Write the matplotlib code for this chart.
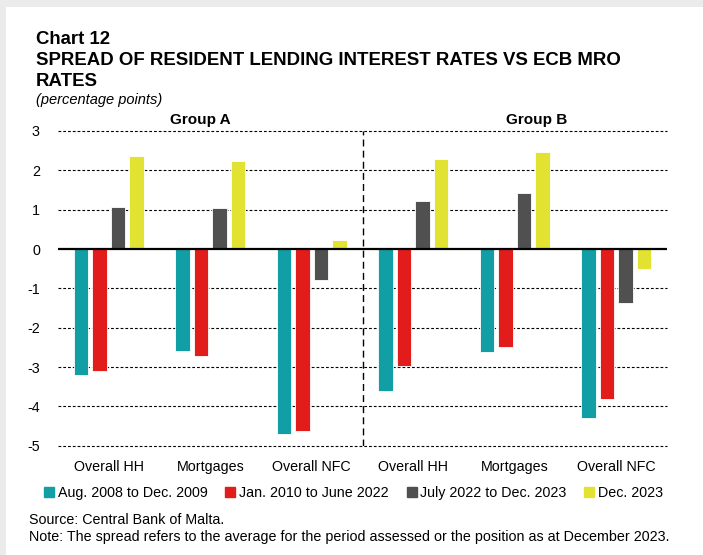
import numpy as np
import matplotlib.pyplot as plt
from matplotlib.lines import Line2D
from matplotlib.patches import Rectangle

plt.rcParams['font.family'] = ['Liberation Sans', 'DejaVu Sans']

# Data (percentage points)
categories = ['Overall HH', 'Mortgages', 'Overall NFC', 'Overall HH', 'Mortgages', 'Overall NFC']
series_names = ['Aug. 2008 to Dec. 2009', 'Jan. 2010 to June 2022',
                'July 2022 to Dec. 2023', 'Dec. 2023']
aug08_dec09 = [-3.21, -2.58, -4.70, -3.60, -2.63, -4.29]
jan10_jun22 = [-3.09, -2.73, -4.63, -2.98, -2.49, -3.82]
jul22_dec23 = [1.07, 1.04, -0.80, 1.21, 1.42, -1.37]
dec23 = [2.36, 2.23, 0.22, 2.29, 2.47, -0.52]
yticks = [3, 2, 1, 0, -1, -2, -3, -4, -5]

colors = ['#119EA4', '#E21B1B', '#505050', '#E2E232']
series = [aug08_dec09, jan10_jun22, jul22_dec23, dec23]

W, H = 703, 555
fig = plt.figure(figsize=(W / 100, H / 100), dpi=100)
fig.patch.set_facecolor('#EBEBEB')
# white panel inside the grey frame
fig.patches.append(Rectangle((6 / W, 0), 1, 1 - 7 / H, transform=fig.transFigure,
                             facecolor='white', edgecolor='none', zorder=-5))

ax = fig.add_axes([58 / W, 1 - 445.7 / H, (667 - 58) / W, (445.7 - 131) / H])
ax.set_facecolor('none')
ax.set_zorder(2)

x = np.arange(len(categories))
pitch = 0.182
width = 0.143
for i, (vals, c) in enumerate(zip(series, colors)):
    ax.bar(x + (i - 1.5) * pitch, vals, width, color=c, edgecolor='white',
           linewidth=0.6, zorder=3)

ax.set_xlim(-0.5, 5.5)
ax.set_ylim(-5, 3)
ax.set_yticks(yticks)
ax.set_yticklabels([str(t) for t in yticks])
ax.set_xticks(x)
ax.set_xticklabels(categories)
ax.tick_params(axis='both', length=0, labelsize=10.3)
ax.tick_params(axis='y', pad=13)
ax.tick_params(axis='x', pad=10)
for s in ax.spines.values():
    s.set_visible(False)

for t in yticks:
    if t != 0:
        ax.axhline(t, color='black', lw=0.8, ls=(0, (2.5, 1.8)), zorder=1, clip_on=False)
ax.axhline(0, color='black', lw=1.6, zorder=4)
ax.axvline(2.5, color='black', lw=1.0, ls=(0, (5, 3)), zorder=2)

ax.text(0.9, 3.1, 'Group A', ha='center', va='bottom', fontsize=11, fontweight='bold')
ax.text(4.22, 3.1, 'Group B', ha='center', va='bottom', fontsize=11, fontweight='bold')

# Titles
fig.text(36 / W, 1 - 44 / H, 'Chart 12', fontsize=13.4, fontweight='bold', va='baseline')
fig.text(36 / W, 1 - 65 / H, 'SPREAD OF RESIDENT LENDING INTEREST RATES VS ECB MRO',
         fontsize=13.4, fontweight='bold', va='baseline')
fig.text(36 / W, 1 - 86 / H, 'RATES', fontsize=13.4, fontweight='bold', va='baseline')
fig.text(36 / W, 1 - 104 / H, '(percentage points)', fontsize=10.5, style='italic', va='baseline')

# Legend
handles = [Line2D([], [], marker='s', ls='none', color=c, markersize=6.5) for c in colors]
fig.legend(handles, series_names, loc='center', bbox_to_anchor=(354 / W, 1 - 493 / H),
           ncol=4, frameon=False, fontsize=10.3, handlelength=0.6, handletextpad=0.3,
           columnspacing=1.3)

fig.text(29 / W, 1 - 524 / H, 'Source: Central Bank of Malta.', fontsize=10.3, va='baseline')
fig.text(29 / W, 1 - 541 / H,
         'Note: The spread refers to the average for the period assessed or the position as at December 2023.',
         fontsize=10.3, va='baseline')

fig.savefig('out.png', dpi=100)
